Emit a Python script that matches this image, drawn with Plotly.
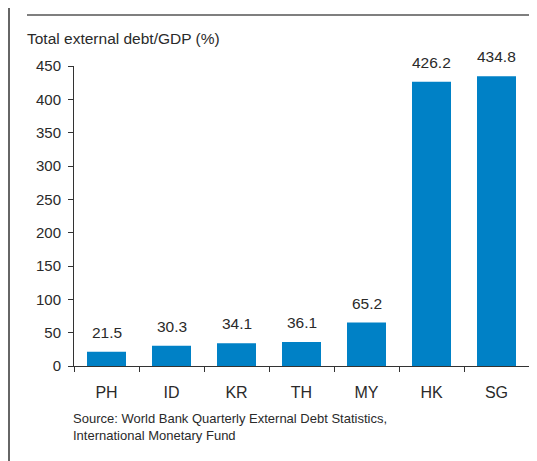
import plotly.graph_objects as go

categories = ["PH", "ID", "KR", "TH", "MY", "HK", "SG"]
debt_to_gdp = [21.5, 30.3, 34.1, 36.1, 65.2, 426.2, 434.8]
y_ticks = [0, 50, 100, 150, 200, 250, 300, 350, 400, 450]

OFF = 8  # browser body margin
W, H = 537 - OFF, 461 - OFF
L, R, T, B = 74 - OFF, 8, 66 - OFF, 95
pw, ph = W - L - R, H - T - B

def px_x(x):  # page pixel -> paper
    return (x - OFF - L) / pw

def px_y(y):
    return (H - B - (y - OFF)) / ph

FONT = "Liberation Sans, Arial, sans-serif"
BLUE = "#0081C6"
TXT = "#2a2a2a"

fig = go.Figure()
fig.add_trace(go.Bar(
    x=categories, y=debt_to_gdp, marker_color=BLUE, marker_line_width=0,
    width=0.6, hoverinfo="x+y",
))

annotations = []
for c, v in zip(categories, debt_to_gdp):
    annotations.append(dict(
        x=c, y=v, xref="x", yref="y", text=f"{v:.1f}", showarrow=False,
        yanchor="bottom", yshift=9, font=dict(family=FONT, size=15.5, color=TXT),
    ))
annotations.append(dict(
    x=px_x(25), y=px_y(38), xref="paper", yref="paper", xanchor="left", yanchor="middle",
    text="Total external debt/GDP (%)", showarrow=False,
    font=dict(family=FONT, size=15.5, color=TXT),
))
annotations.append(dict(
    x=px_x(71), y=px_y(426.5), xref="paper", yref="paper", xanchor="left", yanchor="middle",
    text="Source: World Bank Quarterly External Debt Statistics,<br>International Monetary Fund",
    showarrow=False, align="left",
    font=dict(family=FONT, size=13, color=TXT),
))

shapes = [
    dict(type="line", xref="paper", yref="paper", x0=px_x(9), x1=px_x(9), y0=px_y(-5), y1=px_y(H + 20),
         line=dict(color="#333333", width=1.5)),
    dict(type="line", xref="paper", yref="paper", x0=px_x(27), x1=px_x(545), y0=px_y(15), y1=px_y(15),
         line=dict(color="#555555", width=1.5)),
]

fig.update_layout(
    width=W, height=H, margin=dict(l=L, r=R, t=T, b=B, pad=0),
    paper_bgcolor="white", plot_bgcolor="white", showlegend=False,
    font=dict(family=FONT, size=15, color=TXT),
    annotations=annotations, shapes=shapes, bargap=0.4,
    xaxis=dict(
        type="category", showgrid=False, showline=True, linecolor="#333333", linewidth=1,
        ticks="outside", tickson="boundaries", ticklen=5, tickcolor="#333333",
        tickfont=dict(family=FONT, size=16, color=TXT), range=[-0.5, 6.5],
        ticklabelstandoff=12,
    ),
    yaxis=dict(
        range=[0, 450], tickvals=y_ticks, showgrid=False, zeroline=False,
        showline=True, linecolor="#333333", linewidth=1, ticks="outside", ticklen=5,
        tickcolor="#333333", tickfont=dict(family=FONT, size=15, color=TXT),
        ticklabelstandoff=4,
    ),
)

fig.write_html("out.html")
